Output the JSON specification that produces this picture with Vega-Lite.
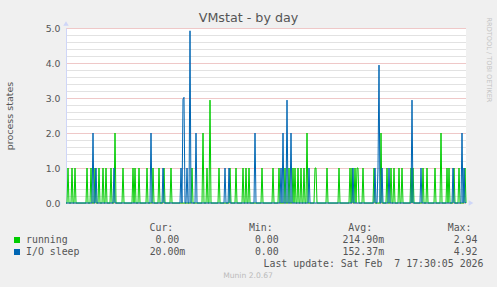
{
  "$schema": "https://vega.github.io/schema/vega-lite/v6.json",
  "autosize": "none",
  "padding": {"left": 66, "top": 28, "right": 31, "bottom": 84},
  "width": 400,
  "height": 175,
  "background": "#f0f0f0",
  "view": {"fill": "#ffffff", "stroke": null},
  "title": {"text": "VMstat - by day", "font": "DejaVu Sans", "fontSize": 12.7, "fontWeight": "normal", "color": "#555555", "anchor": "middle", "frame": "group", "dx": -17.5, "dy": 22, "baseline": "alphabetic", "offset": 4},
  "config": {"view": {"stroke": null}, "font": "DejaVu Sans"},
  "datasets": {
    "series": [
      {"m":490,"r":0,"i":0},{"m":495,"r":0,"i":0},{"m":500,"r":1,"i":0},{"m":505,"r":0,"i":0},
      {"m":515,"r":0,"i":0},{"m":520,"r":1,"i":0},{"m":525,"r":0,"i":0},{"m":530,"r":0,"i":0},
      {"m":535,"r":1,"i":0},{"m":540,"r":0,"i":0},{"m":590,"r":0,"i":0},{"m":595,"r":1,"i":0},
      {"m":600,"r":0,"i":0},{"m":610,"r":0,"i":0},{"m":615,"r":1,"i":0},{"m":620,"r":0,"i":0},
      {"m":625,"r":0,"i":2},{"m":630,"r":0,"i":0},{"m":635,"r":1,"i":0},{"m":640,"r":0,"i":1},
      {"m":645,"r":0,"i":0},{"m":650,"r":0,"i":0},{"m":655,"r":1,"i":0},{"m":660,"r":0,"i":0},
      {"m":670,"r":0,"i":0},{"m":675,"r":1,"i":0},{"m":680,"r":0,"i":0},{"m":685,"r":0,"i":0},
      {"m":690,"r":1,"i":0},{"m":695,"r":0,"i":0},{"m":710,"r":0,"i":0},{"m":715,"r":1,"i":0},
      {"m":720,"r":0,"i":0},{"m":725,"r":0,"i":0},{"m":730,"r":0,"i":1},{"m":735,"r":2,"i":0},
      {"m":740,"r":0,"i":0},{"m":770,"r":0,"i":0},{"m":775,"r":1,"i":0},{"m":780,"r":0,"i":0},
      {"m":820,"r":0,"i":0},{"m":825,"r":1,"i":0},{"m":830,"r":0,"i":0},{"m":835,"r":1,"i":0},
      {"m":840,"r":0,"i":0},{"m":850,"r":0,"i":0},{"m":855,"r":1,"i":0},{"m":860,"r":0,"i":0},
      {"m":890,"r":0,"i":0},{"m":895,"r":1,"i":0},{"m":900,"r":0,"i":0},{"m":910,"r":0,"i":0},
      {"m":915,"r":0,"i":2},{"m":920,"r":0,"i":0},{"m":925,"r":1,"i":0},{"m":930,"r":0,"i":0},
      {"m":950,"r":0,"i":0},{"m":955,"r":1,"i":0},{"m":960,"r":0,"i":0},{"m":970,"r":0,"i":0},
      {"m":975,"r":0,"i":1},{"m":980,"r":1,"i":0},{"m":985,"r":0,"i":0},{"m":1010,"r":0,"i":0},
      {"m":1015,"r":1,"i":0},{"m":1020,"r":0,"i":0},{"m":1060,"r":0,"i":0},{"m":1065,"r":0,"i":1},
      {"m":1070,"r":0,"i":0},{"m":1075,"r":0,"i":2.97},{"m":1080,"r":0,"i":3.02},{"m":1085,"r":0,"i":0},
      {"m":1090,"r":0,"i":0},{"m":1095,"r":0,"i":1},{"m":1100,"r":0,"i":0},{"m":1105,"r":0,"i":0},
      {"m":1110,"r":0,"i":4.92},{"m":1115,"r":0,"i":0},{"m":1120,"r":1,"i":0},{"m":1125,"r":0,"i":0},
      {"m":1135,"r":0,"i":0},{"m":1140,"r":0,"i":2},{"m":1145,"r":0,"i":0},{"m":1170,"r":0,"i":0},
      {"m":1175,"r":2,"i":0},{"m":1180,"r":0,"i":0},{"m":1190,"r":0,"i":0},{"m":1195,"r":1,"i":0},
      {"m":1200,"r":0,"i":0},{"m":1205,"r":0,"i":0},{"m":1210,"r":2.94,"i":0},{"m":1215,"r":0,"i":0},
      {"m":1250,"r":0,"i":0},{"m":1255,"r":1,"i":0},{"m":1260,"r":0,"i":0},{"m":1280,"r":0,"i":0},
      {"m":1285,"r":0,"i":1},{"m":1290,"r":0,"i":0},{"m":1300,"r":0,"i":0},{"m":1305,"r":0,"i":1},
      {"m":1310,"r":1,"i":0},{"m":1315,"r":0,"i":0},{"m":1335,"r":0,"i":0},{"m":1340,"r":1,"i":0},
      {"m":1345,"r":0,"i":0},{"m":1370,"r":0,"i":0},{"m":1375,"r":1,"i":0},{"m":1380,"r":0,"i":0},
      {"m":1385,"r":0,"i":0},{"m":1390,"r":1,"i":0},{"m":1395,"r":0,"i":0},{"m":1400,"r":0,"i":0},
      {"m":1405,"r":1,"i":0},{"m":1410,"r":0,"i":0},{"m":1430,"r":0,"i":0},{"m":1435,"r":0,"i":2},
      {"m":1440,"r":0,"i":0},{"m":1465,"r":0,"i":0},{"m":1470,"r":1,"i":0},{"m":1475,"r":0,"i":0},
      {"m":1520,"r":0,"i":0},{"m":1525,"r":1,"i":0},{"m":1530,"r":0,"i":0},{"m":1550,"r":0,"i":0},
      {"m":1555,"r":1,"i":0},{"m":1560,"r":0,"i":0},{"m":1565,"r":0,"i":1},{"m":1570,"r":0,"i":0},
      {"m":1575,"r":0,"i":2},{"m":1580,"r":0,"i":0},{"m":1585,"r":1,"i":0},{"m":1590,"r":0,"i":0},
      {"m":1595,"r":0,"i":2.94},{"m":1600,"r":0,"i":0},{"m":1605,"r":1,"i":0},{"m":1610,"r":0,"i":0},
      {"m":1615,"r":0,"i":2},{"m":1620,"r":0,"i":0},{"m":1625,"r":1,"i":0},{"m":1630,"r":0,"i":0},
      {"m":1635,"r":1,"i":0},{"m":1640,"r":0,"i":0},{"m":1645,"r":0,"i":0},{"m":1650,"r":1,"i":0},
      {"m":1655,"r":0,"i":0},{"m":1660,"r":0,"i":0},{"m":1665,"r":1,"i":0},{"m":1670,"r":0,"i":0},
      {"m":1675,"r":0,"i":0},{"m":1680,"r":1,"i":0},{"m":1685,"r":0,"i":0},{"m":1690,"r":0,"i":0},
      {"m":1695,"r":2,"i":0},{"m":1700,"r":0,"i":0},{"m":1705,"r":0,"i":1},{"m":1710,"r":0,"i":0},
      {"m":1730,"r":0,"i":0},{"m":1735,"r":1,"i":0},{"m":1740,"r":1,"i":0},{"m":1745,"r":0,"i":0},
      {"m":1790,"r":0,"i":0},{"m":1795,"r":1,"i":0},{"m":1800,"r":0,"i":0},{"m":1850,"r":0,"i":0},
      {"m":1855,"r":1,"i":0},{"m":1860,"r":0,"i":0},{"m":1905,"r":0,"i":0},{"m":1910,"r":1,"i":0},
      {"m":1915,"r":0,"i":0},{"m":1920,"r":1,"i":0},{"m":1925,"r":0,"i":1},{"m":1930,"r":0,"i":0},
      {"m":1935,"r":1,"i":0},{"m":1940,"r":0,"i":0},{"m":1945,"r":1,"i":0},{"m":1950,"r":1,"i":0},
      {"m":1955,"r":0,"i":0},{"m":1970,"r":0,"i":0},{"m":1975,"r":1,"i":0},{"m":1980,"r":0,"i":0},
      {"m":2025,"r":0,"i":0},{"m":2030,"r":1,"i":0},{"m":2035,"r":0,"i":1},{"m":2040,"r":0,"i":0},
      {"m":2045,"r":0,"i":0},{"m":2050,"r":0,"i":1},{"m":2055,"r":0,"i":3.94},{"m":2060,"r":0,"i":0},
      {"m":2065,"r":2,"i":0},{"m":2070,"r":0,"i":1},{"m":2075,"r":0,"i":0},{"m":2090,"r":0,"i":0},
      {"m":2095,"r":1,"i":0},{"m":2100,"r":0,"i":0},{"m":2105,"r":0,"i":1},{"m":2110,"r":0,"i":0},
      {"m":2115,"r":1,"i":0},{"m":2120,"r":0,"i":0},{"m":2125,"r":0,"i":0},{"m":2130,"r":1,"i":0},
      {"m":2135,"r":0,"i":0},{"m":2150,"r":0,"i":0},{"m":2155,"r":1,"i":0},{"m":2160,"r":0,"i":0},
      {"m":2165,"r":0,"i":0},{"m":2170,"r":1,"i":0},{"m":2175,"r":0,"i":0},{"m":2210,"r":0,"i":0},
      {"m":2215,"r":1,"i":0},{"m":2220,"r":0,"i":2.94},{"m":2225,"r":1,"i":0},{"m":2230,"r":0,"i":0},
      {"m":2260,"r":0,"i":0},{"m":2265,"r":0,"i":1},{"m":2270,"r":0,"i":0},{"m":2275,"r":1,"i":0},
      {"m":2280,"r":0,"i":0},{"m":2290,"r":0,"i":0},{"m":2295,"r":1,"i":0},{"m":2300,"r":0,"i":0},
      {"m":2330,"r":0,"i":0},{"m":2335,"r":1,"i":0},{"m":2340,"r":0,"i":0},{"m":2360,"r":0,"i":0},
      {"m":2365,"r":2,"i":0},{"m":2370,"r":0,"i":0},{"m":2390,"r":0,"i":0},{"m":2395,"r":1,"i":0},
      {"m":2400,"r":0,"i":0},{"m":2405,"r":1,"i":0},{"m":2410,"r":0,"i":0},{"m":2420,"r":0,"i":0},
      {"m":2425,"r":0,"i":1},{"m":2430,"r":1,"i":0},{"m":2435,"r":0,"i":0},{"m":2450,"r":0,"i":0},
      {"m":2455,"r":1,"i":0},{"m":2460,"r":0,"i":0},{"m":2465,"r":0,"i":0},{"m":2470,"r":0,"i":2},
      {"m":2475,"r":0,"i":0},{"m":2480,"r":0,"i":1},{"m":2485,"r":1,"i":0},{"m":2490,"r":0,"i":0.02}
    ],
    "legend": [
      {"row": "head", "col": "cur", "txt": "Cur:"},
      {"row": "head", "col": "min", "txt": "Min:"},
      {"row": "head", "col": "avg", "txt": "Avg:"},
      {"row": "head", "col": "max", "txt": "Max:"},
      {"row": "r", "col": "sw", "series": "r"},
      {"row": "r", "col": "name", "txt": "running"},
      {"row": "r", "col": "cur", "txt": "0.00"},
      {"row": "r", "col": "min", "txt": "0.00"},
      {"row": "r", "col": "avg", "txt": "214.90m"},
      {"row": "r", "col": "max", "txt": "2.94"},
      {"row": "i", "col": "sw", "series": "i"},
      {"row": "i", "col": "name", "txt": "I/O sleep"},
      {"row": "i", "col": "cur", "txt": "20.00m"},
      {"row": "i", "col": "min", "txt": "0.00"},
      {"row": "i", "col": "avg", "txt": "152.37m"},
      {"row": "i", "col": "max", "txt": "4.92"},
      {"row": "upd", "col": "max", "txt": "Last update: Sat Feb\u00a0\u00a07 17:30:05 2026"},
      {"row": "munin", "col": "mid", "txt": "Munin 2.0.67"}
    ]
  },
  "layer": [
    {
      "layer": [
        {
          "data": {"name": "series"},
          "transform": [{"fold": ["r", "i"], "as": ["series", "v"]}],
          "mark": {"type": "line", "strokeWidth": 1, "interpolate": "linear"},
          "encoding": {
            "x": {"field": "m", "type": "quantitative",
              "scale": {"domain": [490, 2490], "nice": false, "zero": false},
              "axis": {
                "title": null,
                "values": [540,600,660,720,780,840,900,960,1020,1080,1140,1200,1260,1320,1380,1440,1500,1560,1620,1680,1740,1800,1860,1920,1980,2040,2100,2160,2220,2280,2340,2400,2460],
                "labelExpr": "datum.value % 360 === 0 ? (datum.value < 1440 ? 'Fri ' : 'Sat ') + (floor((datum.value % 1440) / 60) < 10 ? '0' : '') + floor((datum.value % 1440) / 60) + ':00' : ''",
                "grid": true, "gridDash": [1, 1], "gridWidth": 1,
                "gridColor": {"condition": {"test": "datum.value % 180 === 0", "value": "#df9090"}, "value": "#c4c4c4"},
                "ticks": false, "domainColor": "#CFD6F8", "domainWidth": 1,
                "labelFont": "DejaVu Sans", "labelFontSize": 9.3, "labelColor": "#555555", "labelPadding": 5.5,
                "labelFlush": false, "labelOverlap": false
              }
            },
            "y": {"field": "v", "type": "quantitative",
              "scale": {"domain": [0, 5], "nice": false, "zero": true},
              "axis": {
                "title": "process states", "titleFont": "DejaVu Sans", "titleFontSize": 9.5, "titleFontWeight": "normal", "titleColor": "#555555", "titlePadding": 31,
                "values": [0,0.2,0.4,0.6,0.8,1,1.2,1.4,1.6,1.8,2,2.2,2.4,2.6,2.8,3,3.2,3.4,3.6,3.8,4,4.2,4.4,4.6,4.8,5],
                "labelExpr": "abs(datum.value - round(datum.value)) < 0.001 ? format(datum.value, '.1f') : ''",
                "grid": true, "gridDash": [1, 1], "gridWidth": 1,
                "gridColor": {"condition": {"test": "abs(datum.value - round(datum.value)) < 0.001", "value": "#df9090"}, "value": "#c4c4c4"},
                "ticks": false, "domainColor": "#CFD6F8", "domainWidth": 1,
                "labelFont": "DejaVu Sans", "labelFontSize": 9.3, "labelColor": "#555555", "labelPadding": 6,
                "labelOverlap": false, "labelFlush": false
              }
            },
            "color": {"field": "series", "type": "nominal",
              "scale": {"domain": ["r", "i"], "range": ["#00cc00", "#0066b3"]}, "legend": null}
          }
        },
        {
          "data": {"values": [{}]},
          "mark": {"type": "point", "shape": "triangle-up", "filled": true, "color": "#CFD6F8", "opacity": 1, "size": 30, "yOffset": -4.5},
          "encoding": {
            "x": {"datum": 490, "type": "quantitative", "axis": null},
            "y": {"datum": 5, "type": "quantitative",
              "axis": {"orient": "right", "title": "RRDTOOL / TOBI OETIKER", "labels": false, "ticks": false, "domain": false, "grid": false,
                "titleAngle": 90, "titleFont": "DejaVu Sans", "titleFontSize": 6.6, "titleFontWeight": "normal", "titleColor": "#c4c4c4",
                "titleAlign": "left", "titleBaseline": "middle", "titleX": 22, "titleY": -11}}
          }
        },
        {
          "data": {"values": [{}]},
          "mark": {"type": "point", "shape": "triangle-right", "filled": true, "color": "#CFD6F8", "opacity": 1, "size": 30, "xOffset": 5},
          "encoding": {
            "x": {"datum": 2490, "type": "quantitative", "axis": null},
            "y": {"datum": 0, "type": "quantitative", "axis": null}
          }
        }
      ],
      "resolve": {"axis": {"y": "independent"}}
    },
    {
      "data": {"name": "legend"},
      "transform": [{"filter": "datum.row === 'upd' || ((datum.row === 'r' || datum.row === 'i') && indexof(['cur','min','avg','max'], datum.col) >= 0 && slice(datum.txt, -1) === 'm')"}],
      "mark": {"type": "text", "align": "right", "baseline": "middle", "font": "DejaVu Sans Mono", "fontSize": 9.9, "color": "#555555"},
      "encoding": {
        "x": {"field": "col", "type": "nominal", "scale": {"type": "point", "domain": ["cur", "min", "avg", "max"], "range": [119.3, 417.5], "padding": 0}, "axis": null},
        "y": {"field": "row", "type": "nominal", "scale": {"type": "point", "domain": ["head", "r", "i", "upd", "munin"], "range": [200, 248], "padding": 0}, "axis": null},
        "text": {"field": "txt"}
      }
    },
    {
      "data": {"name": "legend"},
      "transform": [{"filter": "(datum.row === 'r' || datum.row === 'i') && indexof(['cur','min','avg','max'], datum.col) >= 0 && slice(datum.txt, -1) !== 'm'"}],
      "mark": {"type": "text", "align": "right", "baseline": "middle", "font": "DejaVu Sans Mono", "fontSize": 9.9, "color": "#555555", "dx": -6},
      "encoding": {
        "x": {"field": "col", "type": "nominal", "scale": {"type": "point", "domain": ["cur", "min", "avg", "max"], "range": [119.3, 417.5], "padding": 0}, "axis": null},
        "y": {"field": "row", "type": "nominal", "scale": {"type": "point", "domain": ["head", "r", "i", "upd", "munin"], "range": [200, 248], "padding": 0}, "axis": null},
        "text": {"field": "txt"}
      }
    },
    {
      "data": {"name": "legend"},
      "transform": [{"filter": "datum.row === 'head'"}],
      "mark": {"type": "text", "align": "right", "baseline": "middle", "font": "DejaVu Sans Mono", "fontSize": 9.9, "color": "#555555", "dx": -12},
      "encoding": {
        "x": {"field": "col", "type": "nominal", "scale": {"type": "point", "domain": ["cur", "min", "avg", "max"], "range": [119.3, 417.5], "padding": 0}, "axis": null},
        "y": {"field": "row", "type": "nominal", "scale": {"type": "point", "domain": ["head", "r", "i", "upd", "munin"], "range": [200, 248], "padding": 0}, "axis": null},
        "text": {"field": "txt"}
      }
    },
    {
      "data": {"name": "legend"},
      "transform": [{"filter": "datum.col === 'name'"}],
      "mark": {"type": "text", "align": "left", "baseline": "middle", "font": "DejaVu Sans Mono", "fontSize": 9.9, "color": "#555555"},
      "encoding": {
        "x": {"field": "col", "type": "nominal", "scale": {"type": "point", "domain": ["sw", "name"], "range": [-49, -40], "padding": 0}, "axis": null},
        "y": {"field": "row", "type": "nominal", "scale": {"type": "point", "domain": ["head", "r", "i", "upd", "munin"], "range": [200, 248], "padding": 0}, "axis": null},
        "text": {"field": "txt"}
      }
    },
    {
      "data": {"name": "legend"},
      "transform": [{"filter": "datum.col === 'sw'"}],
      "mark": {"type": "point", "shape": "square", "filled": true, "opacity": 1, "size": 36},
      "encoding": {
        "x": {"field": "col", "type": "nominal", "scale": {"type": "point", "domain": ["sw", "name"], "range": [-49, -40], "padding": 0}, "axis": null},
        "y": {"field": "row", "type": "nominal", "scale": {"type": "point", "domain": ["head", "r", "i", "upd", "munin"], "range": [200, 248], "padding": 0}, "axis": null},
        "color": {"field": "series", "type": "nominal", "scale": {"domain": ["r", "i"], "range": ["#00cc00", "#0066b3"]}, "legend": null}
      }
    },
    {
      "data": {"name": "legend"},
      "transform": [{"filter": "datum.col === 'mid'"}],
      "mark": {"type": "text", "align": "center", "baseline": "middle", "font": "DejaVu Sans", "fontSize": 7.6, "color": "#bbbbbb"},
      "encoding": {
        "x": {"field": "col", "type": "nominal", "scale": {"type": "point", "domain": ["mid"], "range": [182, 182], "padding": 0}, "axis": null},
        "y": {"field": "row", "type": "nominal", "scale": {"type": "point", "domain": ["head", "r", "i", "upd", "munin"], "range": [200, 248], "padding": 0}, "axis": null},
        "text": {"field": "txt"}
      }
    }
  ],
  "resolve": {"scale": {"x": "independent", "y": "independent"}}
}
